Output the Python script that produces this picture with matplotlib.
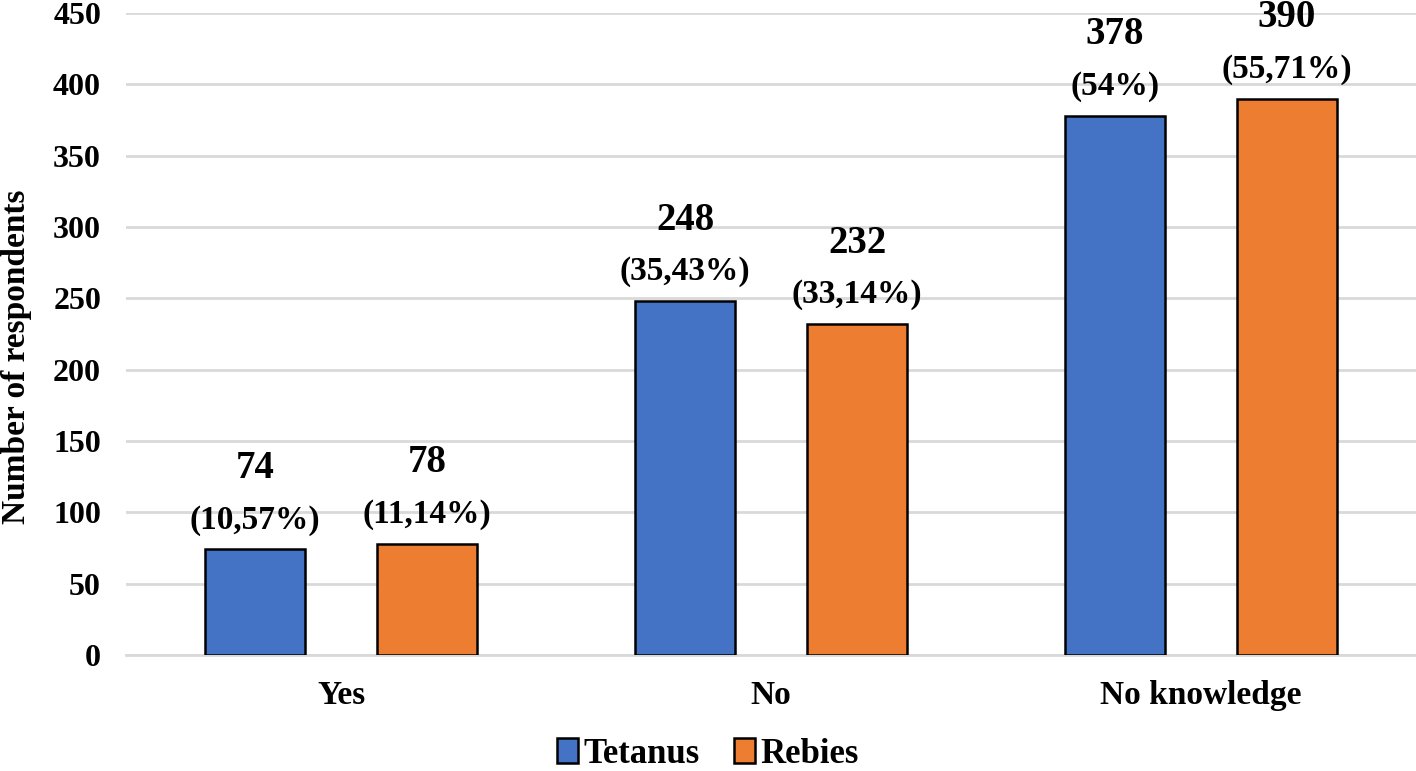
import matplotlib.pyplot as plt
import numpy as np

categories = ['Yes', 'No', 'No knowledge']
tetanus = [74, 248, 378]
rebies = [78, 232, 390]
tetanus_pct = ['10,57%', '35,43%', '54%']
rebies_pct = ['11,14%', '33,14%', '55,71%']

plt.rcParams['font.family'] = ['Liberation Serif', 'DejaVu Serif']
plt.rcParams['font.weight'] = 'bold'

fig = plt.figure(figsize=(14.16, 7.71), dpi=100)
ax = fig.add_axes([0.089, 0.1505, 0.911, 0.8325])

x = np.arange(len(categories))
w = 0.2326
off = 0.2
b1 = ax.bar(x - off, tetanus, w, color='#4472C4', edgecolor='black', linewidth=1.8, label='Tetanus', zorder=3)
b2 = ax.bar(x + off, rebies, w, color='#ED7D31', edgecolor='black', linewidth=1.8, label='Rebies', zorder=3)

for bars, vals, pcts in [(b1, tetanus, tetanus_pct), (b2, rebies, rebies_pct)]:
    for b, v, p in zip(bars, vals, pcts):
        cx = b.get_x() + b.get_width() / 2
        ax.annotate(f'({p})', (cx, v), xytext=(0, 10), textcoords='offset points',
                    ha='center', va='bottom', fontsize=24, fontweight='bold')
        ax.annotate(f'{v}', (cx, v), xytext=(0, 45), textcoords='offset points',
                    ha='center', va='bottom', fontsize=28, fontweight='bold')

ax.set_xlim(-0.5, 2.5)
ax.set_ylim(0, 450)
ax.set_yticks(np.arange(0, 451, 50))
ax.set_xticks(x)
ax.set_xticklabels(categories, fontsize=24, fontweight='bold')
ax.tick_params(axis='x', length=0, pad=18)
ax.tick_params(axis='y', length=0, pad=18, labelsize=23)
for t in ax.get_yticklabels():
    t.set_fontweight('bold')

ax.grid(axis='y', color='#d9d9d9', linewidth=2, zorder=0)
for s in ['top', 'right', 'left']:
    ax.spines[s].set_visible(False)
ax.spines['bottom'].set_color('#d9d9d9')
ax.spines['bottom'].set_linewidth(2)

ax.set_ylabel('Number of respondents', fontsize=24, fontweight='bold')
ax.yaxis.set_label_coords(-0.073, 0.464)

leg = fig.legend(handles=[b1, b2], loc='lower center', bbox_to_anchor=(0.5, -0.04), ncol=2,
                 frameon=False, fontsize=25, handlelength=0.6, handleheight=0.7,
                 handletextpad=0.15, columnspacing=1.0)
for t in leg.get_texts():
    t.set_fontweight('bold')

fig.savefig('out.png', dpi=100)
